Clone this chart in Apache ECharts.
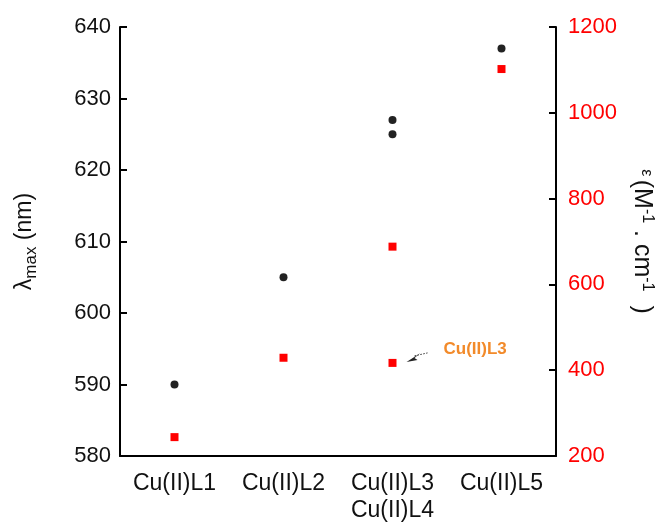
<!DOCTYPE html>
<html>
<head>
<meta charset="utf-8">
<script src="https://cdn.jsdelivr.net/npm/echarts@6/dist/echarts.min.js"></script>
<style>html,body{margin:0;padding:0;background:#fff}#c{width:657px;height:524px}</style>
</head>
<body>
<div id="c"></div>
<script>
var categories = ['Cu(II)L1', 'Cu(II)L2', 'Cu(II)L3\nCu(II)L4', 'Cu(II)L5'];
var lambdaIdx = [0, 1, 2, 2, 3];
var lambdaMax = [590, 605, 625, 627, 637];
var epsIdx = [0, 1, 2, 2, 3];
var epsValues = [244, 429, 688, 417, 1102];
var leftAxisRange = [580, 640, 10];
var rightAxisRange = [200, 1200, 200];
var noteLabel = 'Cu(II)L3';
var noteIndex = 3; // eps point the note points at

var FONT = 'Liberation Sans, Arial, sans-serif';
var chart = echarts.init(document.getElementById('c'));

function pairs(ix, vals) { return ix.map(function (c, i) { return [c, vals[i]]; }); }

var option = {
  animation: false,
  backgroundColor: '#fff',
  grid: { left: 120, right: 101, top: 27, bottom: 68, containLabel: false, outerBoundsMode: 'none' },
  xAxis: {
    type: 'category',
    data: categories,
    boundaryGap: true,
    axisLine: { lineStyle: { color: '#000', width: 2 } },
    axisTick: { inside: true, alignWithLabel: true, length: 7, lineStyle: { color: '#000', width: 2 } },
    axisLabel: { color: '#111', fontSize: 23, fontFamily: FONT, margin: 14, lineHeight: 27, interval: 0 },
    splitLine: { show: false }
  },
  yAxis: [{
    type: 'value',
    min: leftAxisRange[0], max: leftAxisRange[1], interval: leftAxisRange[2],
    position: 'left',
    axisLine: { show: true, lineStyle: { color: '#000', width: 2 } },
    axisTick: { show: true, inside: true, length: 7, lineStyle: { color: '#000', width: 2 } },
    axisLabel: { color: '#111', fontSize: 22, fontFamily: FONT, margin: 9 },
    splitLine: { show: false },
    name: '{a|λ}{s|max}{a| (nm)}',
    nameLocation: 'middle',
    nameRotate: 90,
    nameGap: 80,
    nameTextStyle: {
      fontFamily: FONT,
      rich: {
        a: { fontSize: 23, color: '#111', fontFamily: FONT, lineHeight: 30, verticalAlign: 'middle' },
        s: { fontSize: 17, color: '#111', fontFamily: FONT, lineHeight: 30, verticalAlign: 'bottom', padding: [12, 0, 0, 0] }
      }
    }
  }, {
    type: 'value',
    min: rightAxisRange[0], max: rightAxisRange[1], interval: rightAxisRange[2],
    position: 'right',
    axisLine: { show: true, lineStyle: { color: '#000', width: 2 } },
    axisTick: { show: true, inside: true, length: 7, lineStyle: { color: '#000', width: 2 } },
    axisLabel: { color: '#ff0000', fontSize: 22, fontFamily: FONT, margin: 12, formatter: function (v) { return String(v); } },
    splitLine: { show: false },
    name: '{e|ε} {a|(M}{p|-1}{a| . cm}{p|-1}{a|  )}',
    nameLocation: 'middle',
    nameRotate: -90,
    nameGap: 68,
    nameTextStyle: {
      fontFamily: FONT,
      rich: {
        a: { fontSize: 25, color: '#111', fontFamily: FONT, lineHeight: 30 },
        e: { fontSize: 16, color: '#111', fontFamily: FONT, lineHeight: 30, padding: [0, 0, 10, 0] },
        p: { fontSize: 16, color: '#111', fontFamily: FONT, lineHeight: 30, padding: [0, 0, 12, 0] }
      }
    }
  }],
  series: [{
    type: 'scatter',
    yAxisIndex: 0,
    symbol: 'circle',
    symbolSize: 8,
    itemStyle: { color: '#222', opacity: 1 },
    data: pairs(lambdaIdx, lambdaMax)
  }, {
    type: 'scatter',
    yAxisIndex: 1,
    symbol: 'rect',
    symbolSize: 8,
    itemStyle: { color: '#ff0000', opacity: 1 },
    data: pairs(epsIdx, epsValues)
  }]
};
chart.setOption(option);

// annotation placed relative to the pointed-at data point
var p = chart.convertToPixel({ seriesIndex: 1 }, [epsIdx[noteIndex], epsValues[noteIndex]]);
var tip = [p[0] + 14, p[1] - 1];
var tail = [p[0] + 35, p[1] - 10];
chart.setOption({
  graphic: [
    { type: 'line', shape: { x1: tip[0] + 8, y1: tip[1] - 6, x2: tail[0], y2: tail[1] },
      style: { stroke: '#333', lineWidth: 1, lineDash: [1.5, 1.5] } },
    { type: 'polygon', shape: { points: [tip, [tip[0] + 14, tip[1] - 9], [tip[0] + 8, tip[1] - 4], [tip[0] + 11, tip[1] - 2]] },
      style: { fill: '#222' } },
    { type: 'text', x: p[0] + 51, y: p[1] - 14,
      style: { text: noteLabel, fill: '#f28a2a', font: 'bold 17px ' + FONT, verticalAlign: 'middle', align: 'left' } }
  ]
});
</script>
</body>
</html>
